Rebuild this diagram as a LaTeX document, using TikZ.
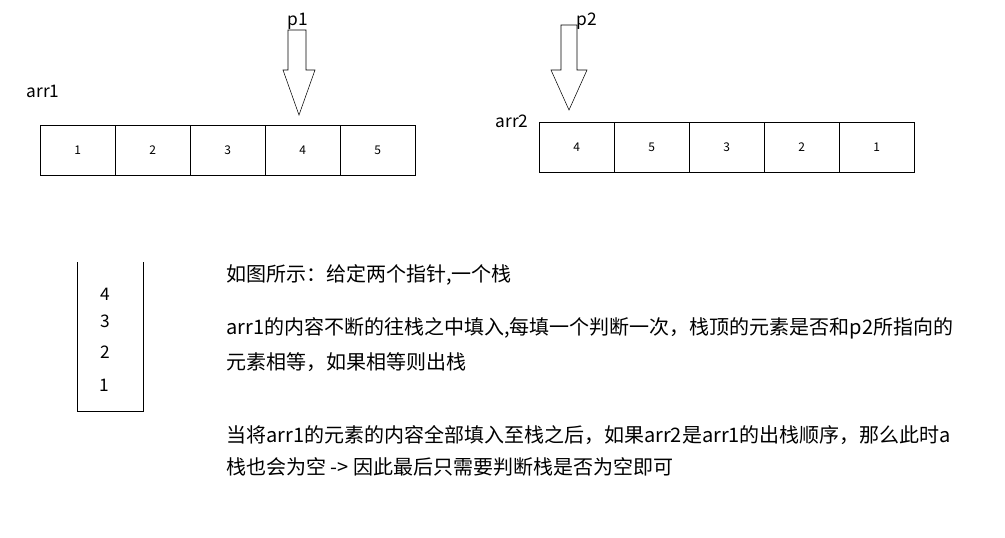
\documentclass[tikz,border=0pt]{standalone}
\usepackage{fontspec}
\setmainfont{Noto Sans CJK SC}
\begin{document}
\begin{tikzpicture}[x=0.75pt,y=-0.75pt,
  cell/.style={draw,minimum width=56.25pt,minimum height=37.5pt,inner sep=0,font=\fontsize{9}{10}\selectfont,anchor=north west},
  lbl/.style={font=\fontsize{13}{15}\selectfont},
  txt/.style={font=\fontsize{15}{17}\selectfont,anchor=west,inner sep=0}]
\useasboundingbox (0,0) rectangle (1005,537);
\foreach \v [count=\i] in {1,2,3,4,5}
  \node[cell] (a\i) at ({40+75*(\i-1)},125) {\v};
\foreach \v [count=\i] in {4,5,3,2,1}
  \node[cell] (b\i) at ({539+75*(\i-1)},122) {\v};
\node[lbl] (l1) at (43,91) {arr1};
\node[lbl] (l2) at (512,121) {arr2};
\node[lbl] (p1) at (298,21) {p1};
\node[lbl] (p2) at (587,21) {p2};
\draw (288,30) -- (306,30) -- (306,70) -- (315,70) -- (299,115) -- (283,70) -- (288,70) -- cycle;
\draw (561,25) -- (577,25) -- (577,70) -- (587,70) -- (569,110) -- (551,70) -- (561,70) -- cycle;
\draw (77,262) -- (77,411) -- (143,411) -- (143,262);
\node[lbl] (s4) at (105,294) {4};
\node[lbl] (s3) at (105,321) {3};
\node[lbl] (s2) at (105,352) {2};
\node[lbl] (s1) at (104,385) {1};
\node[txt] (t1) at (226,275) {如图所示：给定两个指针,一个栈};
\node[txt] (t2) at (226,328) {arr1的内容不断的往栈之中填入,每填一个判断一次，栈顶的元素是否和p2所指向的};
\node[txt] (t3) at (226,362) {元素相等，如果相等则出栈};
\node[txt] (t4) at (226,435) {当将arr1的元素的内容全部填入至栈之后，如果arr2是arr1的出栈顺序，那么此时a};
\node[txt] (t5) at (226,467) {栈也会为空 -> 因此最后只需要判断栈是否为空即可};
\end{tikzpicture}
\end{document}
